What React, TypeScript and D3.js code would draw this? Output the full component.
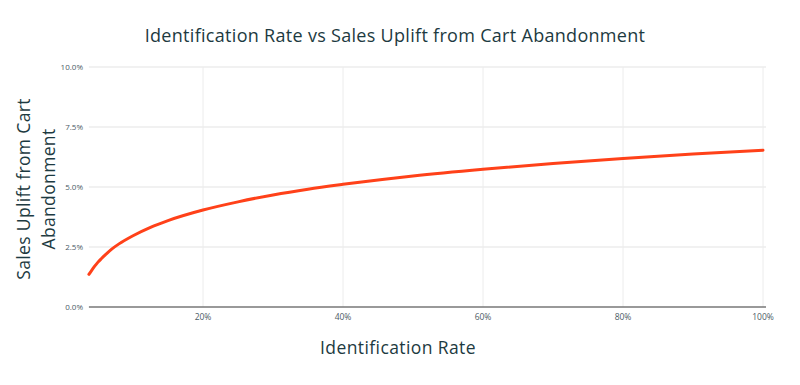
import React from 'react';
import * as d3 from 'd3';

// identification rate (fraction) and sales uplift (%)
const rates = [0.037, 0.041, 0.045, 0.05, 0.055, 0.06, 0.07, 0.08, 0.1, 0.125, 0.15, 0.2, 0.25, 0.3, 0.35, 0.4, 0.5, 0.6, 0.7, 0.8, 0.9, 1.0];
const uplift = [1.36, 1.53, 1.69, 1.87, 2.02, 2.16, 2.42, 2.63, 2.97, 3.32, 3.6, 4.04, 4.38, 4.67, 4.91, 5.11, 5.46, 5.74, 5.98, 6.19, 6.37, 6.53];

const xTicks = [0.2, 0.4, 0.6, 0.8, 1.0];
const yTicks = [0, 2.5, 5, 7.5, 10];

const W = 800;
const H = 385;
const FONT = "'Open Sans', 'Noto Sans', sans-serif";

const App = () => {
  const x = d3.scaleLinear().domain([0, 1]).range([63, 763]);
  const y = d3.scaleLinear().domain([0, 10]).range([307, 67]);
  const left = x(0.037);
  const right = 766;

  const line = d3.line<number>()
    .x((_, i) => x(rates[i]))
    .y(d => y(d))
    .curve(d3.curveMonotoneX);

  return (
    <svg width={W} height={H} style={{ position: 'absolute', left: 0, top: 0, background: '#fff' }}>
      <text x={395} y={42} textAnchor="middle" fontFamily={FONT} fontSize={18} letterSpacing={0.3} fill="#1d3a41">
        Identification Rate vs Sales Uplift from Cart Abandonment
      </text>

      {/* horizontal grid */}
      {yTicks.filter(t => t > 0).map(t => (
        <line key={'h' + t} x1={left} x2={right} y1={y(t)} y2={y(t)} stroke="#e3e3e3" strokeWidth={1} />
      ))}
      {/* vertical grid */}
      {xTicks.map(t => (
        <line key={'v' + t} x1={x(t)} x2={x(t)} y1={y(10)} y2={y(0)} stroke="#ececec" strokeWidth={1} />
      ))}

      {/* y tick labels */}
      {yTicks.map(t => (
        <text key={'yl' + t} x={83} y={y(t) + 3} textAnchor="end" fontFamily={FONT} fontSize={8} fill="#4b5b66">
          {t.toFixed(1) + '%'}
        </text>
      ))}
      {/* x tick labels */}
      {xTicks.map(t => (
        <text key={'xl' + t} x={x(t)} y={320} textAnchor="middle" fontFamily={FONT} fontSize={8.5} fill="#4b5b66">
          {Math.round(t * 100) + '%'}
        </text>
      ))}

      {/* zero line */}
      <line x1={left} x2={right} y1={y(0)} y2={y(0)} stroke="#777" strokeWidth={1.5} />

      <path d={line(uplift) || ''} fill="none" stroke="#ff4119" strokeWidth={3} strokeLinecap="round" />

      {/* axis titles */}
      <text x={398} y={354} textAnchor="middle" fontFamily={FONT} fontSize={17.5} letterSpacing={0.4} fill="#1d3a41">
        Identification Rate
      </text>
      <text transform="translate(30,189) rotate(-90)" textAnchor="middle" fontFamily={FONT} fontSize={17.5} letterSpacing={0.35} fill="#1d3a41">
        <tspan x={0} y={0}>Sales Uplift from Cart</tspan>
        <tspan x={0} y={25}>Abandonment</tspan>
      </text>
    </svg>
  );
};

export default App;
